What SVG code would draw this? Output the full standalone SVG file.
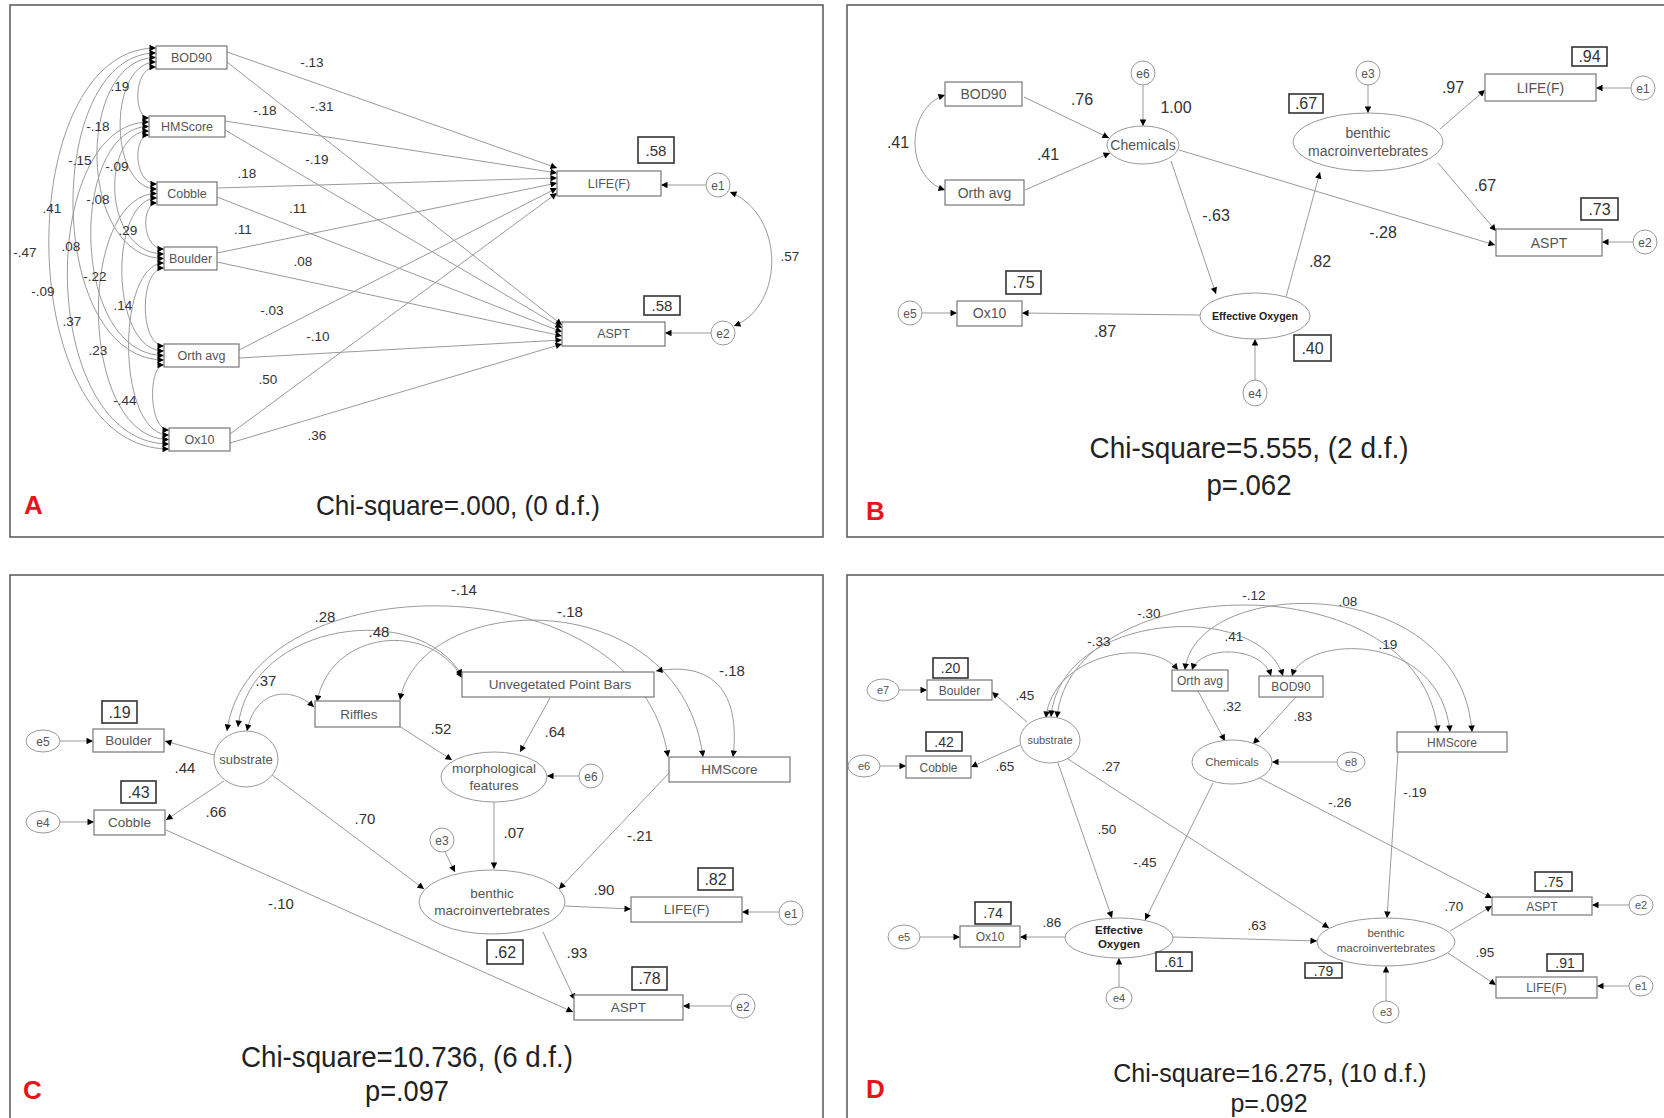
<svg xmlns="http://www.w3.org/2000/svg" width="1664" height="1118" viewBox="0 0 1664 1118">
<defs>
<marker id="ah" viewBox="0 0 10 10" refX="10" refY="5" markerWidth="8" markerHeight="6.5" markerUnits="userSpaceOnUse" orient="auto-start-reverse"><path d="M0,0 L10,5 L0,10 z" fill="#000"/></marker>
</defs>
<style>
.frame{fill:#fff;stroke:#555;stroke-width:1.5}
.box{fill:#fff;stroke:#777;stroke-width:1.2}
.r2{fill:#fff;stroke:#333;stroke-width:1.6}
.ell{fill:#fff;stroke:#999;stroke-width:1}
.ln{fill:none;stroke:#9a9a9a;stroke-width:1}
.ar{marker-end:url(#ah)}
.ar2{marker-start:url(#ah);marker-end:url(#ah)}
text{font-family:"Liberation Sans",Arial,sans-serif}
.nt{fill:#555;text-anchor:middle}
.num{fill:#333;text-anchor:middle}
.big{fill:#222;text-anchor:middle}
.lt{fill:#e8141a;font-weight:bold}
.eo{fill:#222;text-anchor:middle;font-weight:bold}
</style>
<rect width="1664" height="1118" fill="#fff"/>
<rect class="frame" x="10" y="5" width="813" height="532"/>
<rect class="frame" x="847" y="5" width="840" height="532"/>
<rect class="frame" x="10" y="575" width="813" height="560"/>
<rect class="frame" x="847" y="575" width="840" height="560"/>

<!-- ================= PANEL A ================= -->
<g id="A-connectors">
<line class="ln ar" x1="227" y1="52" x2="557" y2="168"/>
<line class="ln ar" x1="227" y1="62" x2="562" y2="325"/>
<line class="ln ar" x1="225" y1="121" x2="557" y2="173"/>
<line class="ln ar" x1="225" y1="130" x2="562" y2="328"/>
<line class="ln ar" x1="217" y1="188" x2="557" y2="178"/>
<line class="ln ar" x1="217" y1="197" x2="562" y2="332"/>
<line class="ln ar" x1="217" y1="253" x2="557" y2="183"/>
<line class="ln ar" x1="217" y1="262" x2="562" y2="336"/>
<line class="ln ar" x1="239" y1="350" x2="557" y2="188"/>
<line class="ln ar" x1="239" y1="358" x2="562" y2="340"/>
<line class="ln ar" x1="230" y1="434" x2="557" y2="193"/>
<line class="ln ar" x1="230" y1="443" x2="562" y2="344"/>
<path class="ln ar2" d="M156,67 C133,67 133,118 149,118"/>
<path class="ln ar2" d="M156,62 C108,62 108,189 157,189"/>
<path class="ln ar2" d="M156,57.5 C76,57.5 76,258.5 164,258.5"/>
<path class="ln ar2" d="M156,53 C44,53 44,360 164,360"/>
<path class="ln ar2" d="M156,48 C11,48 11,449 169,449"/>
<path class="ln ar2" d="M149,135 C133,135 133,184 157,184"/>
<path class="ln ar2" d="M149,131 C101,131 101,254 164,254"/>
<path class="ln ar2" d="M149,126.5 C69,126.5 69,355.5 164,355.5"/>
<path class="ln ar2" d="M149,122 C37,122 37,444 169,444"/>
<path class="ln ar2" d="M157,203 C141,203 141,249 164,249"/>
<path class="ln ar2" d="M157,198 C109,198 109,351 164,351"/>
<path class="ln ar2" d="M157,193.5 C77,193.5 77,439.5 169,439.5"/>
<path class="ln ar2" d="M164,268 C139,268 139,346 164,346"/>
<path class="ln ar2" d="M164,263 C116,263 116,435 169,435"/>
<path class="ln ar2" d="M164,365 C148,365 148,430 169,430"/>
<line class="ln ar" x1="706" y1="185" x2="661" y2="185"/>
<line class="ln ar" x1="711" y1="333" x2="665" y2="333"/>
<path class="ln ar2" d="M730,192 C785,215 785,305 734,326"/>
</g>
<g id="A-labels" font-size="13.5">
<text class="num" x="312" y="67">-.13</text>
<text class="num" x="322" y="111">-.31</text>
<text class="num" x="265" y="115">-.18</text>
<text class="num" x="317" y="164">-.19</text>
<text class="num" x="247" y="178">.18</text>
<text class="num" x="298" y="213">.11</text>
<text class="num" x="243" y="234">.11</text>
<text class="num" x="303" y="266">.08</text>
<text class="num" x="272" y="315">-.03</text>
<text class="num" x="318" y="341">-.10</text>
<text class="num" x="268" y="384">.50</text>
<text class="num" x="317" y="440">.36</text>
<text class="num" x="790" y="261">.57</text>
<text class="num" x="120" y="91">.19</text>
<text class="num" x="98" y="131">-.18</text>
<text class="num" x="80" y="165">-.15</text>
<text class="num" x="117" y="171">-.09</text>
<text class="num" x="52" y="213">.41</text>
<text class="num" x="98" y="204">-.08</text>
<text class="num" x="128" y="235">.29</text>
<text class="num" x="25" y="257">-.47</text>
<text class="num" x="71" y="251">.08</text>
<text class="num" x="95" y="281">-.22</text>
<text class="num" x="43" y="296">-.09</text>
<text class="num" x="123" y="310">.14</text>
<text class="num" x="72" y="326">.37</text>
<text class="num" x="98" y="355">.23</text>
<text class="num" x="125" y="405">-.44</text>
</g>
<g id="A-BOD90"><rect class="box" x="156" y="46" width="71" height="23"/><text class="nt" x="191.5" y="62" font-size="12.5">BOD90</text></g>
<g id="A-HMScore"><rect class="box" x="149" y="116" width="76" height="21"/><text class="nt" x="187" y="131" font-size="12.5">HMScore</text></g>
<g id="A-Cobble"><rect class="box" x="157" y="182" width="60" height="23"/><text class="nt" x="187" y="198" font-size="12.5">Cobble</text></g>
<g id="A-Boulder"><rect class="box" x="164" y="247" width="53" height="23"/><text class="nt" x="190.5" y="263" font-size="12.5">Boulder</text></g>
<g id="A-Orth"><rect class="box" x="164" y="344" width="75" height="23"/><text class="nt" x="201.5" y="360" font-size="12.5">Orth avg</text></g>
<g id="A-Ox10"><rect class="box" x="169" y="428" width="61" height="23"/><text class="nt" x="199.5" y="444" font-size="12.5">Ox10</text></g>
<g id="A-LIFE"><rect class="box" x="557" y="171" width="104" height="25"/><text class="nt" x="609" y="188" font-size="12.5">LIFE(F)</text><rect class="r2" x="638" y="137" width="36" height="26"/><text class="num" x="656" y="156" font-size="15">.58</text></g>
<g id="A-ASPT"><rect class="box" x="562" y="322" width="103" height="24"/><text class="nt" x="613.5" y="338" font-size="12.5">ASPT</text><rect class="r2" x="644" y="296" width="36" height="19"/><text class="num" x="662" y="311" font-size="15">.58</text></g>
<g id="A-e1"><circle class="ell" cx="718" cy="185" r="12"/><text class="nt" x="718" y="189.5" font-size="12">e1</text></g>
<g id="A-e2"><circle class="ell" cx="723" cy="333" r="12"/><text class="nt" x="723" y="337.5" font-size="12">e2</text></g>
<text class="big" x="458" y="515" font-size="28" textLength="284" lengthAdjust="spacingAndGlyphs">Chi-square=.000, (0 d.f.)</text>
<text class="lt" x="24" y="514" font-size="26">A</text>

<!-- ================= PANEL B ================= -->
<g id="B-connectors">
<path class="ln ar2" d="M945,95 C905,108 905,177 945,190"/>
<line class="ln ar" x1="1024" y1="97" x2="1109" y2="138"/>
<line class="ln ar" x1="1025" y1="190" x2="1110" y2="153"/>
<line class="ln ar" x1="1143" y1="85" x2="1143" y2="126"/>
<line class="ln ar" x1="1171" y1="161" x2="1216" y2="294"/>
<line class="ln ar" x1="1179" y1="150" x2="1495" y2="245"/>
<line class="ln ar" x1="1286" y1="297" x2="1320" y2="172"/>
<line class="ln ar" x1="1368" y1="85" x2="1368" y2="113"/>
<line class="ln ar" x1="1440" y1="129" x2="1485" y2="90"/>
<line class="ln ar" x1="1438" y1="163" x2="1496" y2="231"/>
<line class="ln ar" x1="1631" y1="88" x2="1596" y2="88"/>
<line class="ln ar" x1="1633" y1="242" x2="1602" y2="242"/>
<line class="ln ar" x1="1255" y1="381" x2="1255" y2="339"/>
<line class="ln ar" x1="1200" y1="315" x2="1022" y2="313"/>
<line class="ln ar" x1="922" y1="313" x2="957" y2="313"/>
</g>
<g id="B-labels" font-size="16">
<text class="num" x="1082" y="105">.76</text>
<text class="num" x="1176" y="113">1.00</text>
<text class="num" x="1048" y="160">.41</text>
<text class="num" x="898" y="148">.41</text>
<text class="num" x="1453" y="93">.97</text>
<text class="num" x="1485" y="191">.67</text>
<text class="num" x="1383" y="238">-.28</text>
<text class="num" x="1216" y="221">-.63</text>
<text class="num" x="1320" y="267">.82</text>
<text class="num" x="1105" y="337">.87</text>
</g>
<g id="B-BOD90"><rect class="box" x="945" y="82" width="77" height="24"/><text class="nt" x="983.5" y="99" font-size="14">BOD90</text></g>
<g id="B-Orth"><rect class="box" x="945" y="180" width="79" height="25"/><text class="nt" x="984.5" y="198" font-size="14">Orth avg</text></g>
<g id="B-Chemicals"><ellipse class="ell" cx="1143" cy="145" rx="36" ry="19"/><text class="nt" x="1143" y="150" font-size="14">Chemicals</text></g>
<g id="B-e6"><circle class="ell" cx="1143" cy="73" r="12"/><text class="nt" x="1143" y="77.5" font-size="12">e6</text></g>
<g id="B-benthic"><ellipse class="ell" cx="1368" cy="142" rx="75" ry="29"/><text class="nt" x="1368" y="138" font-size="14">benthic</text><text class="nt" x="1368" y="156" font-size="14">macroinvertebrates</text><rect class="r2" x="1289" y="94" width="34" height="19"/><text class="num" x="1306" y="109" font-size="16">.67</text></g>
<g id="B-e3"><circle class="ell" cx="1368" cy="73" r="12"/><text class="nt" x="1368" y="77.5" font-size="12">e3</text></g>
<g id="B-LIFE"><rect class="box" x="1485" y="74" width="111" height="27"/><text class="nt" x="1540.5" y="93" font-size="14">LIFE(F)</text><rect class="r2" x="1572" y="47" width="35" height="19"/><text class="num" x="1589.5" y="62" font-size="16">.94</text></g>
<g id="B-e1"><circle class="ell" cx="1643" cy="88" r="12"/><text class="nt" x="1643" y="92.5" font-size="12">e1</text></g>
<g id="B-ASPT"><rect class="box" x="1496" y="229" width="106" height="27"/><text class="nt" x="1549" y="248" font-size="14">ASPT</text><rect class="r2" x="1581" y="198" width="37" height="22"/><text class="num" x="1599.5" y="215" font-size="16">.73</text></g>
<g id="B-e2"><circle class="ell" cx="1645" cy="242" r="12"/><text class="nt" x="1645" y="246.5" font-size="12">e2</text></g>
<g id="B-EffOx"><ellipse class="ell" cx="1255" cy="316" rx="55" ry="23"/><text class="eo" x="1255" y="320" font-size="11" textLength="86" lengthAdjust="spacingAndGlyphs">Effective Oxygen</text><rect class="r2" x="1294" y="335" width="37" height="26"/><text class="num" x="1312.5" y="354" font-size="16">.40</text></g>
<g id="B-e4"><ellipse class="ell" cx="1255" cy="393" rx="12" ry="13"/><text class="nt" x="1255" y="397.5" font-size="12">e4</text></g>
<g id="B-Ox10"><rect class="box" x="957" y="301" width="65" height="25"/><text class="nt" x="989.5" y="318" font-size="14">Ox10</text><rect class="r2" x="1006" y="271" width="35" height="23"/><text class="num" x="1023.5" y="288" font-size="16">.75</text></g>
<g id="B-e5"><circle class="ell" cx="910" cy="313" r="12"/><text class="nt" x="910" y="317.5" font-size="12">e5</text></g>
<text class="big" x="1249" y="458" font-size="30" textLength="319" lengthAdjust="spacingAndGlyphs">Chi-square=5.555, (2 d.f.)</text>
<text class="big" x="1249" y="495" font-size="30" textLength="85" lengthAdjust="spacingAndGlyphs">p=.062</text>
<text class="lt" x="866" y="520" font-size="26">B</text>

<!-- ================= PANEL C ================= -->
<g id="C-connectors">
<path class="ln ar2" d="M227,731 C250,560 640,560 668,757"/>
<path class="ln ar2" d="M400,700 C420,590 680,580 703,757"/>
<path class="ln ar2" d="M656,671 C720,660 740,700 733,757"/>
<path class="ln ar2" d="M317,702 C330,630 430,620 462,678"/>
<path class="ln ar2" d="M238,727 C250,620 420,600 462,676"/>
<path class="ln ar2" d="M247,731 C255,690 290,685 314,707"/>
<line class="ln ar" x1="60" y1="741" x2="93" y2="741"/>
<line class="ln ar" x1="60" y1="822" x2="94" y2="822"/>
<line class="ln ar" x1="214" y1="755" x2="165" y2="741"/>
<line class="ln ar" x1="224" y1="781" x2="166" y2="820"/>
<line class="ln ar" x1="272" y1="775" x2="424" y2="889"/>
<line class="ln ar" x1="166" y1="830" x2="573" y2="1012"/>
<line class="ln ar" x1="399" y1="726" x2="452" y2="760"/>
<line class="ln ar" x1="550" y1="698" x2="520" y2="752"/>
<line class="ln ar" x1="494" y1="802" x2="494" y2="869"/>
<line class="ln ar" x1="579" y1="776" x2="547" y2="776"/>
<line class="ln ar" x1="445" y1="852" x2="455" y2="872"/>
<line class="ln ar" x1="670" y1="772" x2="559" y2="889"/>
<line class="ln ar" x1="565" y1="906" x2="631" y2="909"/>
<line class="ln ar" x1="543" y1="932" x2="575" y2="1000"/>
<line class="ln ar" x1="779" y1="912" x2="742" y2="912"/>
<line class="ln ar" x1="731" y1="1006" x2="683" y2="1006"/>
</g>
<g id="C-labels" font-size="15">
<text class="num" x="185" y="773">.44</text>
<text class="num" x="216" y="817">.66</text>
<text class="num" x="365" y="824">.70</text>
<text class="num" x="281" y="909">-.10</text>
<text class="num" x="441" y="734">.52</text>
<text class="num" x="555" y="737">.64</text>
<text class="num" x="514" y="838">.07</text>
<text class="num" x="640" y="841">-.21</text>
<text class="num" x="604" y="895">.90</text>
<text class="num" x="577" y="958">.93</text>
<text class="num" x="464" y="595">-.14</text>
<text class="num" x="325" y="622">.28</text>
<text class="num" x="379" y="637">.48</text>
<text class="num" x="266" y="686">.37</text>
<text class="num" x="570" y="617">-.18</text>
<text class="num" x="732" y="676">-.18</text>
</g>
<g id="C-e5"><ellipse class="ell" cx="43" cy="741" rx="17" ry="11"/><text class="nt" x="43" y="745.5" font-size="12">e5</text></g>
<g id="C-Boulder"><rect class="box" x="93" y="729" width="71" height="23"/><text class="nt" x="128.5" y="745" font-size="13.5">Boulder</text><rect class="r2" x="102" y="701" width="35" height="22"/><text class="num" x="119.5" y="718" font-size="16">.19</text></g>
<g id="C-e4"><ellipse class="ell" cx="43" cy="822" rx="17" ry="11"/><text class="nt" x="43" y="826.5" font-size="12">e4</text></g>
<g id="C-Cobble"><rect class="box" x="94" y="810" width="71" height="25"/><text class="nt" x="129.5" y="827" font-size="13.5">Cobble</text><rect class="r2" x="121" y="781" width="35" height="22"/><text class="num" x="138.5" y="798" font-size="16">.43</text></g>
<g id="C-substrate"><ellipse class="ell" cx="246" cy="759" rx="32" ry="28"/><text class="nt" x="246" y="764" font-size="13">substrate</text></g>
<g id="C-Riffles"><rect class="box" x="315" y="701" width="85" height="26"/><text class="nt" x="359" y="719" font-size="13.5">Riffles</text></g>
<g id="C-UPB"><rect class="box" x="462" y="672" width="192" height="25"/><text class="nt" x="560" y="689" font-size="13.5">Unvegetated Point Bars</text></g>
<g id="C-HMScore"><rect class="box" x="669" y="757" width="121" height="25"/><text class="nt" x="729.5" y="774" font-size="13.5">HMScore</text></g>
<g id="C-morph"><ellipse class="ell" cx="494" cy="777" rx="53" ry="25"/><text class="nt" x="494" y="773" font-size="13.5">morphological</text><text class="nt" x="494" y="790" font-size="13.5">features</text></g>
<g id="C-e6"><circle class="ell" cx="591" cy="776" r="12"/><text class="nt" x="591" y="780.5" font-size="12">e6</text></g>
<g id="C-e3"><circle class="ell" cx="442" cy="840" r="12"/><text class="nt" x="442" y="844.5" font-size="12">e3</text></g>
<g id="C-benthic"><ellipse class="ell" cx="492" cy="902" rx="73" ry="32"/><text class="nt" x="492" y="898" font-size="13.5">benthic</text><text class="nt" x="492" y="915" font-size="13.5">macroinvertebrates</text><rect class="r2" x="487" y="940" width="36" height="24"/><text class="num" x="505" y="958" font-size="16">.62</text></g>
<g id="C-LIFE"><rect class="box" x="631" y="897" width="111" height="25"/><text class="nt" x="686.5" y="914" font-size="13.5">LIFE(F)</text><rect class="r2" x="698" y="868" width="35" height="22"/><text class="num" x="715.5" y="885" font-size="16">.82</text></g>
<g id="C-e1"><circle class="ell" cx="791" cy="913" r="12"/><text class="nt" x="791" y="917.5" font-size="12">e1</text></g>
<g id="C-ASPT"><rect class="box" x="574" y="995" width="109" height="25"/><text class="nt" x="628.5" y="1012" font-size="13.5">ASPT</text><rect class="r2" x="632" y="967" width="35" height="23"/><text class="num" x="649.5" y="984" font-size="16">.78</text></g>
<g id="C-e2"><circle class="ell" cx="743" cy="1006" r="12"/><text class="nt" x="743" y="1010.5" font-size="12">e2</text></g>
<text class="big" x="407" y="1067" font-size="30" textLength="332" lengthAdjust="spacingAndGlyphs">Chi-square=10.736, (6 d.f.)</text>
<text class="big" x="407" y="1101" font-size="30" textLength="84" lengthAdjust="spacingAndGlyphs">p=.097</text>
<text class="lt" x="23" y="1099" font-size="26">C</text>

<!-- ================= PANEL D ================= -->
<g id="D-connectors">
<path class="ln ar2" d="M1046,718 C1052,655 1150,635 1178,670"/>
<path class="ln ar2" d="M1051,717 C1060,610 1260,600 1283,676"/>
<path class="ln ar2" d="M1057,718 C1070,570 1420,560 1438,732"/>
<path class="ln ar2" d="M1192,670 C1200,645 1262,645 1271,676"/>
<path class="ln ar2" d="M1185,670 C1195,575 1460,570 1472,732"/>
<path class="ln ar2" d="M1292,676 C1305,635 1440,630 1450,732"/>
<line class="ln ar" x1="899" y1="690" x2="927" y2="690"/>
<line class="ln ar" x1="880" y1="766" x2="906" y2="766"/>
<line class="ln ar" x1="1027" y1="722" x2="992" y2="692"/>
<line class="ln ar" x1="1020" y1="745" x2="971" y2="767"/>
<line class="ln ar" x1="1058" y1="763" x2="1112" y2="918"/>
<line class="ln ar" x1="1068" y1="759" x2="1329" y2="928"/>
<line class="ln ar" x1="1198" y1="691" x2="1225" y2="741"/>
<line class="ln ar" x1="1296" y1="697" x2="1253" y2="744"/>
<line class="ln ar" x1="1337" y1="762" x2="1272" y2="762"/>
<line class="ln ar" x1="1213" y1="783" x2="1145" y2="920"/>
<line class="ln ar" x1="1258" y1="777" x2="1492" y2="898"/>
<line class="ln ar" x1="1398" y1="752" x2="1387" y2="918"/>
<line class="ln ar" x1="920" y1="937" x2="960" y2="937"/>
<line class="ln ar" x1="1065" y1="937" x2="1020" y2="937"/>
<line class="ln ar" x1="1119" y1="987" x2="1119" y2="958"/>
<line class="ln ar" x1="1173" y1="937" x2="1317" y2="941"/>
<line class="ln ar" x1="1386" y1="1001" x2="1386" y2="966"/>
<line class="ln ar" x1="1450" y1="931" x2="1492" y2="906"/>
<line class="ln ar" x1="1448" y1="953" x2="1496" y2="985"/>
<line class="ln ar" x1="1629" y1="905" x2="1592" y2="905"/>
<line class="ln ar" x1="1629" y1="986" x2="1597" y2="986"/>
</g>
<g id="D-labels" font-size="13.5">
<text class="num" x="1025" y="700">.45</text>
<text class="num" x="1005" y="771">.65</text>
<text class="num" x="1107" y="834">.50</text>
<text class="num" x="1111" y="771">.27</text>
<text class="num" x="1232" y="711">.32</text>
<text class="num" x="1303" y="721">.83</text>
<text class="num" x="1145" y="867">-.45</text>
<text class="num" x="1340" y="807">-.26</text>
<text class="num" x="1415" y="797">-.19</text>
<text class="num" x="1052" y="927">.86</text>
<text class="num" x="1257" y="930">.63</text>
<text class="num" x="1454" y="911">.70</text>
<text class="num" x="1485" y="957">.95</text>
<text class="num" x="1099" y="646">-.33</text>
<text class="num" x="1149" y="618">-.30</text>
<text class="num" x="1254" y="600">-.12</text>
<text class="num" x="1348" y="606">.08</text>
<text class="num" x="1234" y="641">.41</text>
<text class="num" x="1388" y="649">.19</text>
</g>
<g id="D-e7"><ellipse class="ell" cx="883" cy="690" rx="16" ry="11"/><text class="nt" x="883" y="694" font-size="11">e7</text></g>
<g id="D-Boulder"><rect class="box" x="927" y="680" width="65" height="20"/><text class="nt" x="959.5" y="694.5" font-size="12">Boulder</text><rect class="r2" x="933" y="658" width="35" height="20"/><text class="num" x="950.5" y="673" font-size="14">.20</text></g>
<g id="D-e6"><ellipse class="ell" cx="864" cy="766" rx="16" ry="11"/><text class="nt" x="864" y="770" font-size="11">e6</text></g>
<g id="D-Cobble"><rect class="box" x="906" y="756" width="65" height="22"/><text class="nt" x="938.5" y="771.5" font-size="12">Cobble</text><rect class="r2" x="926" y="732" width="36" height="19"/><text class="num" x="944" y="747" font-size="14">.42</text></g>
<g id="D-substrate"><ellipse class="ell" cx="1050" cy="740" rx="30" ry="23"/><text class="nt" x="1050" y="744" font-size="11">substrate</text></g>
<g id="D-Orth"><rect class="box" x="1172" y="670" width="56" height="21"/><text class="nt" x="1200" y="685" font-size="12">Orth avg</text></g>
<g id="D-BOD90"><rect class="box" x="1259" y="676" width="64" height="21"/><text class="nt" x="1291" y="691" font-size="12">BOD90</text></g>
<g id="D-Chemicals"><ellipse class="ell" cx="1232" cy="762" rx="40" ry="22"/><text class="nt" x="1232" y="766" font-size="11.5">Chemicals</text></g>
<g id="D-e8"><ellipse class="ell" cx="1351" cy="762" rx="14" ry="10"/><text class="nt" x="1351" y="766" font-size="11">e8</text></g>
<g id="D-HMScore"><rect class="box" x="1397" y="732" width="110" height="20"/><text class="nt" x="1452" y="746.5" font-size="12">HMScore</text></g>
<g id="D-EffOx"><ellipse class="ell" cx="1119" cy="938" rx="54" ry="20"/><text class="eo" x="1119" y="934" font-size="11.5">Effective</text><text class="eo" x="1119" y="948" font-size="11.5">Oxygen</text><rect class="r2" x="1156" y="952" width="36" height="19"/><text class="num" x="1174" y="967" font-size="14">.61</text></g>
<g id="D-e4"><ellipse class="ell" cx="1119" cy="998" rx="13" ry="11"/><text class="nt" x="1119" y="1002" font-size="11">e4</text></g>
<g id="D-Ox10"><rect class="box" x="960" y="926" width="60" height="21"/><text class="nt" x="990" y="941" font-size="12">Ox10</text><rect class="r2" x="975" y="902" width="36" height="22"/><text class="num" x="993" y="918" font-size="14">.74</text></g>
<g id="D-e5"><ellipse class="ell" cx="904" cy="937" rx="16" ry="12"/><text class="nt" x="904" y="941" font-size="11">e5</text></g>
<g id="D-benthic"><ellipse class="ell" cx="1386" cy="942" rx="69" ry="24"/><text class="nt" x="1386" y="937" font-size="11.5">benthic</text><text class="nt" x="1386" y="952" font-size="11.5">macroinvertebrates</text><rect class="r2" x="1305" y="963" width="37" height="15"/><text class="num" x="1323.5" y="975.5" font-size="14">.79</text></g>
<g id="D-e3"><ellipse class="ell" cx="1386" cy="1012" rx="13" ry="11"/><text class="nt" x="1386" y="1016" font-size="11">e3</text></g>
<g id="D-ASPT"><rect class="box" x="1492" y="897" width="100" height="18"/><text class="nt" x="1542" y="910.5" font-size="12">ASPT</text><rect class="r2" x="1535" y="872" width="37" height="19"/><text class="num" x="1553.5" y="887" font-size="14">.75</text></g>
<g id="D-e2"><ellipse class="ell" cx="1641" cy="905" rx="12" ry="10"/><text class="nt" x="1641" y="909" font-size="11">e2</text></g>
<g id="D-LIFE"><rect class="box" x="1496" y="977" width="101" height="21"/><text class="nt" x="1546.5" y="992" font-size="12">LIFE(F)</text><rect class="r2" x="1547" y="954" width="36" height="17"/><text class="num" x="1565" y="968" font-size="14">.91</text></g>
<g id="D-e1"><ellipse class="ell" cx="1641" cy="986" rx="12" ry="10"/><text class="nt" x="1641" y="990" font-size="11">e1</text></g>
<text class="big" x="1270" y="1082" font-size="25">Chi-square=16.275, (10 d.f.)</text>
<text class="big" x="1269" y="1112" font-size="25">p=.092</text>
<text class="lt" x="866" y="1098" font-size="26">D</text>
</svg>
